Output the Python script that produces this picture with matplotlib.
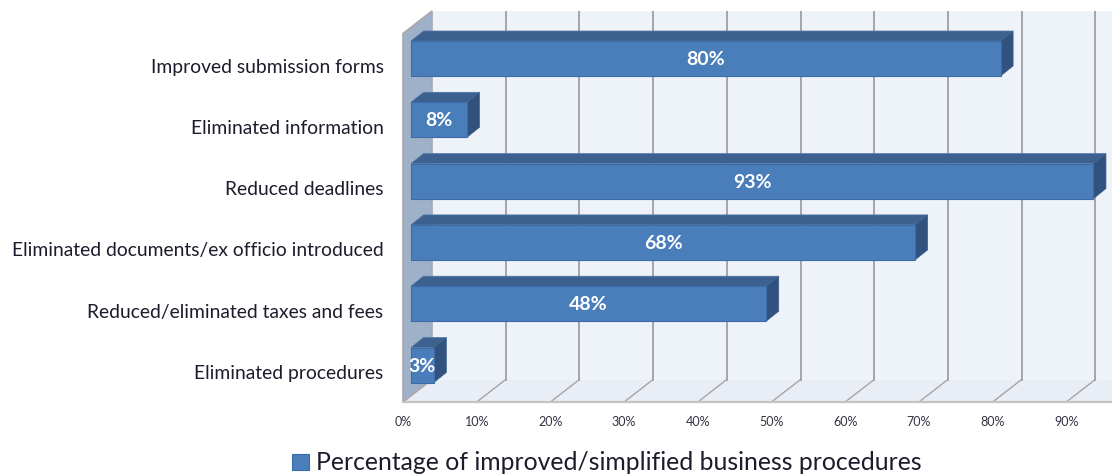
import matplotlib
matplotlib.use('Agg')
import matplotlib.pyplot as plt
from matplotlib.patches import Polygon
from matplotlib.transforms import ScaledTranslation

plt.rcParams['font.family'] = ['Lato', 'DejaVu Sans']

categories = ["Eliminated procedures", "Reduced/eliminated taxes and fees",
              "Eliminated documents/ex officio introduced", "Reduced deadlines",
              "Eliminated information", "Improved submission forms"]
values = [3.1, 48.2, 68.4, 92.6, 7.6, 80.0]
grid_ticks = [0, 10, 20, 30, 40, 50, 60, 70, 80, 90]
legend_label = "Percentage of improved/simplified business procedures"

W, H = 1112, 474
PX_X = 7.37   # pixels per percent
PX_Y = 61.3   # pixels per category

# oblique offsets of the fake 3d box, data units
depth_x = 29 / PX_X
depth_y = 22.5 / PX_Y
bar_off = 8 / PX_X
bar_dx = 12.5 / PX_X
bar_dy = 10 / PX_Y
bar_h = 35 / PX_Y

fig = plt.figure(figsize=(W / 100, H / 100), dpi=100)
ax = fig.add_axes([403 / W, (H - 402) / H, (W - 403) / W, (402 - 11) / H])
ax.set_xlim(0, (W - 403) / PX_X)
y_low = (365 - 402) / PX_Y
y_top = (365 - 11) / PX_Y
ax.set_ylim(y_low, y_top)
for s in ax.spines.values():
    s.set_visible(False)

x_right = ax.get_xlim()[1]
grey = '#a5a5a5'

# back wall, floor, side wall
ax.add_patch(Polygon([(depth_x, y_low + depth_y), (x_right, y_low + depth_y), (x_right, y_top), (depth_x, y_top)],
                     fc='#eef2f9', ec='none', zorder=1))
ax.add_patch(Polygon([(0, y_low), (x_right, y_low), (x_right, y_low + depth_y), (depth_x, y_low + depth_y)],
                     fc='#e9edf5', ec='none', zorder=1))
ax.add_patch(Polygon([(0, y_low), (0, y_top - depth_y), (depth_x, y_top), (depth_x, y_low + depth_y)],
                     fc='#9fb1c8', ec='#a9a9a9', lw=1.2, zorder=2, clip_on=False))

for t in grid_ticks[1:]:
    ax.plot([t, t + depth_x], [y_low, y_low + depth_y], color=grey, lw=1.0, zorder=2)
    ax.plot([t + depth_x, t + depth_x], [y_low + depth_y, y_top], color=grey, lw=1.4, zorder=2)
ax.plot([0, x_right], [y_low, y_low], color='#c4c4c4', lw=1.6, zorder=2, clip_on=False)

ypos = list(range(len(categories)))
ax.barh(ypos, values, height=bar_h, left=bar_off, color='#4a7ebb', edgecolor='#3c6ca6', lw=0.8,
        zorder=4, label=legend_label)

for y, v in zip(ypos, values):
    x0 = bar_off
    x1 = bar_off + v
    y0 = y - bar_h / 2
    y1 = y + bar_h / 2
    ax.add_patch(Polygon([(x0, y1), (x1, y1), (x1 + bar_dx, y1 + bar_dy), (x0 + bar_dx, y1 + bar_dy)],
                         fc='#3c618f', ec='#4f77a8', lw=0.5, zorder=3, clip_on=False))
    ax.add_patch(Polygon([(x1, y0), (x1, y1), (x1 + bar_dx, y1 + bar_dy), (x1 + bar_dx, y0 + bar_dy)],
                         fc='#31527e', ec='#3c618f', lw=0.5, zorder=3, clip_on=False))
    ax.annotate("%d%%" % round(v), (x0 + v / 2, y), xytext=(0, -1), textcoords='offset pixels',
                color='white', fontweight='bold', fontsize=14, ha='center', va='center', zorder=5)

ax.set_xticks(grid_ticks)
ax.set_xticklabels(["%d%%" % t for t in grid_ticks], fontsize=9, color='#333344')
ax.set_yticks(ypos)
ax.set_yticklabels(categories, fontsize=13.9, color='#1c1c2c')
ax.tick_params(axis='x', length=0, pad=10)
ax.tick_params(axis='y', length=0, pad=14)
shift = ScaledTranslation(0, -7 / 100, fig.dpi_scale_trans)
for lab in ax.get_yticklabels():
    lab.set_transform(lab.get_transform() + shift)

ax.legend(loc='center', bbox_to_anchor=(607 / W, (H - 463) / H), bbox_transform=fig.transFigure,
          frameon=False, fontsize=17.85, handlelength=0.65, handleheight=0.65, handletextpad=0.3,
          labelcolor='#1c1c2c', borderpad=0)

fig.savefig('out.png', dpi=100)
